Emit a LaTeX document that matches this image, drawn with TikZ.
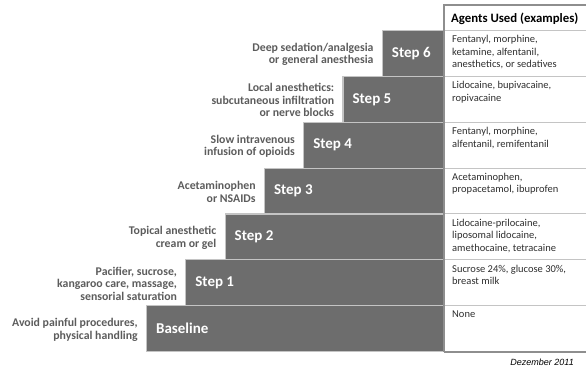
\documentclass[tikz,border=0pt]{standalone}
\usepackage{fontspec}
\setmainfont{Carlito}
\newfontfamily\datefont{Liberation Sans}
\usetikzlibrary{positioning}

\definecolor{stepgray}{HTML}{6D6D6D}
\definecolor{descgray}{HTML}{5C5C5C}
\definecolor{sepgray}{HTML}{C4C4C4}
\definecolor{framegray}{HTML}{8E8E8E}
\definecolor{agentink}{HTML}{2E2E2E}

% ---- Customizable section
\def\rowh{45.86}     % height of one step / table row
\def\stepw{39.3}     % horizontal offset from one step to the next
\def\tablex{444}     % left edge of the table
% ---- End of customizable section

\tikzset{
  stepbox/.style={fill=stepgray, draw=sepgray, line width=1.1pt, anchor=north east,
    minimum height=\rowh pt, inner sep=0pt},
  steplabel/.style={text=white, font=\fontsize{15}{17}\selectfont\bfseries,
    anchor=west, inner sep=0pt},
  desclabel/.style={text=descgray, font=\fontsize{11.8}{12.5}\selectfont\bfseries,
    align=right, anchor=east, inner sep=0pt},
  agentcell/.style={draw=sepgray, line width=1pt, anchor=north west,
    minimum width=141.5pt, minimum height=\rowh pt, inner sep=0pt},
  agenttext/.style={text=agentink, font=\fontsize{10.5}{12.3}\selectfont,
    align=left, anchor=north west, inner sep=0pt},
}

\begin{document}
\begin{tikzpicture}[x=1pt, y=-1pt]
\useasboundingbox (0,0) rectangle (586,367);
\clip (0,0) rectangle (586,367);

% header of the table
\node[agentcell, minimum height=25pt] (head) at (\tablex,5) {};
\node[anchor=west, inner sep=0pt, font=\fontsize{12.8}{14}\selectfont\bfseries]
  (headtext) at ([xshift=7pt, yshift=-1pt]head.west) {Agents Used (examples)};

% the staircase and the table rows
\foreach \i/\lab/\desc/\agents in {
  0/Baseline/{Avoid painful procedures,\\ physical handling}/{None},
  1/Step 1/{Pacifier, sucrose,\\ kangaroo care, massage,\\ sensorial saturation}/{Sucrose 24\%, glucose 30\%,\\ breast milk},
  2/Step 2/{Topical anesthetic\\ cream or gel}/{Lidocaine-prilocaine,\\ liposomal lidocaine,\\ amethocaine, tetracaine},
  3/Step 3/{Acetaminophen\\ or NSAIDs}/{Acetaminophen,\\ propacetamol, ibuprofen},
  4/Step 4/{Slow intravenous\\ infusion of opioids}/{Fentanyl, morphine,\\ alfentanil, remifentanil},
  5/Step 5/{Local anesthetics:\\ subcutaneous infiltration\\ or nerve blocks}/{Lidocaine, bupivacaine,\\ ropivacaine},
  6/Step 6/{Deep sedation/analgesia\\ or general anesthesia}/{Fentanyl, morphine,\\ ketamine, alfentanil,\\ anesthetics, or sedatives}} {
  \pgfmathsetmacro{\top}{30+(6-\i)*\rowh}
  \pgfmathsetmacro{\boxw}{\tablex-(147+\i*\stepw)}
  \node[stepbox, minimum width=\boxw pt] (s\i) at (\tablex,\top) {};
  \node[steplabel] (l\i) at ([xshift=10pt]s\i.west) {\lab};
  \node[desclabel] (d\i) at ([xshift=-8pt, yshift=-1pt]s\i.west) {\desc};
  \node[agentcell] (a\i) at (\tablex,\top) {};
  \node[agenttext] (t\i) at ([xshift=8pt, yshift=-5.5pt]a\i.north west) {\agents};
}

% frame of the table
\draw[framegray, line width=1.6pt] (s0.south east) -- (head.north west) -- (head.north east);
\draw[framegray, line width=1.2pt] (a0.south west) -- (a0.south east);
\draw[framegray, line width=1.2pt] (head.north east) -- (a0.south east);

\node[anchor=south east, inner sep=0pt, font=\datefont\fontsize{9}{10}\selectfont\itshape]
  (date) at (574,365.5) {Dezember 2011};
\end{tikzpicture}
\end{document}
